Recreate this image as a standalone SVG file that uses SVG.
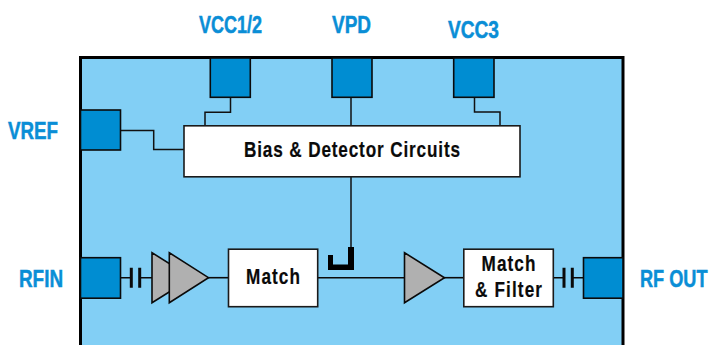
<svg xmlns="http://www.w3.org/2000/svg" width="710" height="345" viewBox="0 0 710 345">
<style>
.pad{fill:#008dd2;stroke:#0a0a0a;stroke-width:1.6}
.box{fill:#fff;stroke:#1a1a1a;stroke-width:1.6}
.amp{fill:#b0b0b0;stroke:#0a0a0a;stroke-width:1.6;stroke-linejoin:miter}
.w{fill:none;stroke:#111;stroke-width:1.5}
.w2{fill:none;stroke:#0a0a0a;stroke-width:1.6}
.cap{fill:none;stroke:#0a0a0a;stroke-width:3}
.lbl{font:bold 24px "Liberation Sans",Arial,sans-serif;fill:#0a8ed6;stroke:#0a8ed6;stroke-width:.5}
.t{font:bold 22px "Liberation Sans",Arial,sans-serif;fill:#0a0a0a;stroke:#0a0a0a;stroke-width:.2}
</style>
<rect width="710" height="345" fill="#fff"/>
<g id="chip">
<path d="M80.500 345V57.500H623V345" fill="#82cff5" stroke="#000" stroke-width="3"/>
</g>
<g id="connectors">
<path class="w" d="M230.500 97V112.300H205V126"/>
<path class="w" d="M351 97V126"/>
<path class="w" d="M474.500 97V112H500V126"/>
<path class="w" d="M120 130.500H153.700V149.500H184"/>
<path class="w" d="M351 176.500V250"/>
<path class="w2" d="M120 277.700H131M140 277.700H152"/>
<path class="w2" d="M208 277.700H228.500"/>
<path class="w2" d="M317.500 277.700H404.500"/>
<path class="w2" d="M444 277.700H464"/>
<path class="w2" d="M553 277.700H564M572 277.700H583.500"/>
<path class="cap" d="M131.300 267.700V287.700M139.700 267.700V287.700M564 267.700V287.700M572.300 267.700V287.700"/>
<path id="coupler" d="M328 255H333V264.500H348V247H354V270H328Z" fill="#000"/>
</g>
<g id="vcc12"><rect class="pad" x="210.300" y="58" width="40" height="39.300"/><text class="lbl" x="199" y="33" textLength="63" lengthAdjust="spacingAndGlyphs">VCC1/2</text></g>
<g id="vpd"><rect class="pad" x="332" y="58" width="40" height="39.300"/><text class="lbl" x="332" y="33" textLength="39" lengthAdjust="spacingAndGlyphs">VPD</text></g>
<g id="vcc3"><rect class="pad" x="453.700" y="58" width="40.300" height="39.300"/><text class="lbl" x="448" y="38" textLength="51" lengthAdjust="spacingAndGlyphs">VCC3</text></g>
<g id="vref"><rect class="pad" x="80.500" y="110" width="40" height="40"/><text class="lbl" x="8" y="138.500" textLength="50" lengthAdjust="spacingAndGlyphs">VREF</text></g>
<g id="rfin"><rect class="pad" x="80.500" y="257.700" width="40" height="40.500"/><text class="lbl" x="19" y="287" textLength="44" lengthAdjust="spacingAndGlyphs">RFIN</text></g>
<g id="rfout"><rect class="pad" x="583.500" y="257.700" width="39.500" height="40.500"/><text class="lbl" transform="translate(640 287) scale(.756 1)">RF OUT</text></g>
<g id="bias"><rect class="box" x="184" y="125.800" width="336" height="51"/><text class="t" transform="translate(244 157) scale(.78 1)" textLength="277" lengthAdjust="spacing">Bias &amp; Detector Circuits</text></g>
<g id="amp1"><path class="amp" d="M152 252.700L192 277.700L152 302.700Z"/></g>
<g id="amp2"><path class="amp" d="M169.300 252.700L208.500 277.700L169.300 302.700Z"/></g>
<g id="match"><rect class="box" x="228.500" y="249.200" width="89.200" height="57.500"/><text class="t" transform="translate(246 284) scale(.78 1)" textLength="69.200" lengthAdjust="spacing">Match</text></g>
<g id="amp3"><path class="amp" d="M404.500 252.700L444.500 277.700L404.500 302.700Z"/></g>
<g id="filter"><rect class="box" x="463.800" y="249.200" width="89.500" height="57.500"/><text class="t" transform="translate(481.500 271) scale(.78 1)" textLength="69.200" lengthAdjust="spacing">Match</text><text class="t" transform="translate(475 297) scale(.78 1)" textLength="85.900" lengthAdjust="spacing">&amp; Filter</text></g>
</svg>
